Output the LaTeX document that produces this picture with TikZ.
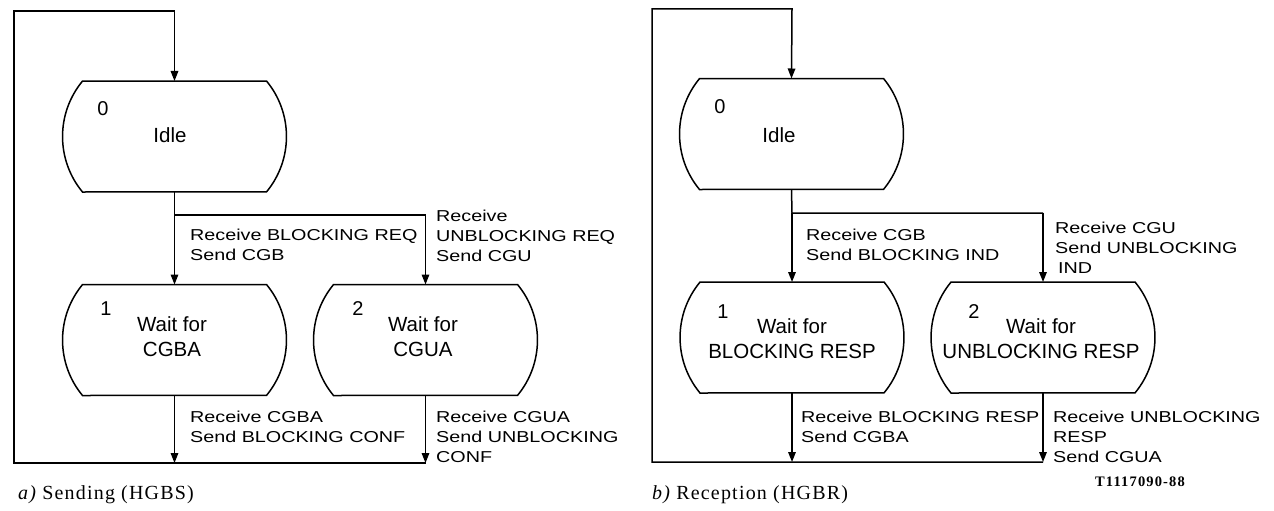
\documentclass[tikz,border=0pt]{standalone}
\usepackage{fontspec}
\setmainfont{Liberation Serif}
\setsansfont{Liberation Sans}
\newfontfamily\labfont{Liberation Sans}[FakeStretch=1.25]
\newfontfamily\capfont{Liberation Serif}[LetterSpace=6]
\newfontfamily\codefont{Liberation Serif}[LetterSpace=8]
\usetikzlibrary{arrows.meta}

\newcommand\linesL[1]{\begin{tabular}[t]{@{}l@{}}#1\end{tabular}}
\newcommand\linesC[1]{\begin{tabular}[t]{@{}c@{}}#1\end{tabular}}

\tikzset{
  wire/.style={line width=1.5pt, line join=miter},
  arr/.style={wire, -{Triangle[length=10pt,width=7.5pt]}},
  statebox/.style={minimum width=224pt, minimum height=111pt, inner sep=0pt, outer sep=0pt},
  outline/.style={line width=1.5pt},
  lab/.style={font=\labfont\fontsize{15.8}{20.3}\selectfont, inner sep=0pt, anchor=base west},
  stxt/.style={font=\sffamily\fontsize{20.5}{25}\selectfont, inner sep=0pt, anchor=base},
  snum/.style={font=\sffamily\fontsize{20}{25}\selectfont, inner sep=0pt, anchor=base},
  captext/.style={font=\capfont\fontsize{20}{24}\selectfont, inner sep=0pt, anchor=base west},
  codetext/.style={font=\codefont\bfseries\fontsize{14.5}{17}\selectfont, inner sep=0pt, anchor=base},
}

\newcommand\stateshape[1]{%
  \draw[outline] ([xshift=20pt]#1.north west) -- ([xshift=-20pt]#1.north east)
    arc[start angle=39.6,end angle=-39.6,radius=87pt]
    -- ([xshift=20pt]#1.south west)
    arc[start angle=219.6,end angle=140.4,radius=87pt] -- cycle;}

\begin{document}
\begin{tikzpicture}[x=1pt,y=-1pt]
\useasboundingbox (0,0) rectangle (1274,511);

% ---------------- panel a ----------------
\node[statebox] (s0a) at (174.5,136.5) {};
\node[statebox] (s1a) at (174.5,340) {};
\node[statebox] (s2a) at (425.5,340) {};
\stateshape{s0a}
\stateshape{s1a}
\stateshape{s2a}

\node[snum] (n0a) at (103,115) {0};
\node[stxt] (t0a) at (170,142) {Idle};
\node[snum] (n1a) at (106,315) {1};
\node[stxt] (t1a) at (172,331) {\linesC{Wait for\\CGBA}};
\node[snum] (n2a) at (358,315) {2};
\node[stxt] (t2a) at (423,331) {\linesC{Wait for\\CGUA}};

\coordinate (tla) at (14,11);
\coordinate (tra) at (174.5,11);
\coordinate (bla) at (14,463);
\coordinate (b1a) at (174.5,463);
\coordinate (b2a) at (425.5,463);
\coordinate (bra) at (174.5,215);
\coordinate (brra) at (425.5,215);

\draw[arr] (b2a) -- (bla) -- (tla) -- (tra) -- (s0a.north);
\draw[wire] (s0a.south) -- (bra) -- (brra);
\draw[arr] (bra) -- (s1a.north);
\draw[arr] (brra) -- (s2a.north);
\draw[arr] (s1a.south) -- (b1a);
\draw[arr] (s2a.south) -- (b2a);

\node[lab] (l1a) at (190,240) {\linesL{Receive BLOCKING REQ\\Send CGB}};
\node[lab] (l2a) at (436,221) {\linesL{Receive\\UNBLOCKING REQ\\Send CGU}};
\node[lab] (l3a) at (190,422) {\linesL{Receive CGBA\\Send BLOCKING CONF}};
\node[lab] (l4a) at (436,422) {\linesL{Receive CGUA\\Send UNBLOCKING\\CONF}};

\node[captext] (capa) at (18,499) {\itshape a)\upshape\ Sending (HGBS)};

% ---------------- panel b ----------------
\node[statebox] (s0b) at (791.5,134) {};
\node[statebox] (s1b) at (792,337.5) {};
\node[statebox] (s2b) at (1043,337.5) {};
\stateshape{s0b}
\stateshape{s1b}
\stateshape{s2b}

\node[snum] (n0b) at (720,113) {0};
\node[stxt] (t0b) at (779,142) {Idle};
\node[snum] (n1b) at (723,318) {1};
\node[stxt] (t1b) at (792,333) {\linesC{Wait for\\BLOCKING RESP}};
\node[snum] (n2b) at (974,318) {2};
\node[stxt] (t2b) at (1041,333) {\linesC{Wait for\\UNBLOCKING RESP}};

\coordinate (tlb) at (652,9);
\coordinate (trb) at (792,9);
\coordinate (blb) at (652,462);
\coordinate (b1b) at (792,462);
\coordinate (b2b) at (1043,462);
\coordinate (brb) at (792,213);
\coordinate (brrb) at (1043,213);

\draw[arr] (b2b) -- (blb) -- (tlb) -- (trb) -- (s0b.north);
\draw[wire] (s0b.south) -- (brb) -- (brrb);
\draw[arr] (brb) -- (s1b.north);
\draw[arr] (brrb) -- (s2b.north);
\draw[arr] (s1b.south) -- (b1b);
\draw[arr] (s2b.south) -- (b2b);

\node[lab] (l1b) at (806,240) {\linesL{Receive CGB\\Send BLOCKING IND}};
\node[lab] (l2b) at (1055,233) {\linesL{Receive CGU\\Send UNBLOCKING\\\hspace*{3pt}IND}};
\node[lab] (l3b) at (801,422) {\linesL{Receive BLOCKING RESP\\Send CGBA}};
\node[lab] (l4b) at (1053,422) {\linesL{Receive UNBLOCKING\\RESP\\Send CGUA}};

\node[captext] (capb) at (652,499) {\itshape b)\upshape\ Reception (HGBR)};
\node[codetext] (code) at (1140,486) {T1117090-88};
\end{tikzpicture}
\end{document}
